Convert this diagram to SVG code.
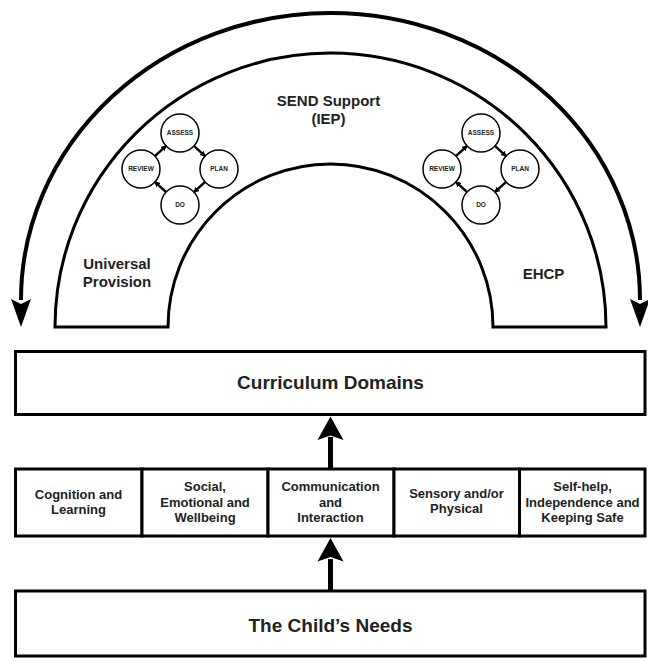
<svg xmlns="http://www.w3.org/2000/svg" width="648" height="661" viewBox="0 0 648 661">
<defs>
<style>
.bx{fill:#fff;stroke:#000;stroke-width:3}
.lbl{font-family:"Liberation Sans",Arial,sans-serif;font-weight:bold;fill:#222;text-anchor:middle}
.big{font-size:19px}
.mid{font-size:15px}
.sm{font-size:13px}
.tiny{font-size:6.5px}
.cyc{fill:#fff;stroke:#000;stroke-width:1.5}
.cl{stroke:#000;stroke-width:2.5;marker-end:url(#sa)}
.head{fill:#000}
</style>
<marker id="sa" markerUnits="userSpaceOnUse" viewBox="0 0 6 6" markerWidth="6" markerHeight="6" refX="5" refY="3" orient="auto">
<path d="M0,0 L6,3 L0,6 z" fill="#000"/>
</marker>
</defs>
<rect width="648" height="661" fill="#fff"/>

<g id="outer-arrow">
<path d="M 21,300 A 309.5,287 0 0 1 640,300" fill="none" stroke="#000" stroke-width="4"/>
<polygon class="head" points="21,327 11,299 21,304 31,299"/>
<polygon class="head" points="640,327 630,299 640,304 650,299"/>
</g>

<g id="arch">
<path class="bx" d="M 55,327 A 275.5,274 0 0 1 606,327 L 493,327 A 162.5,163 0 0 0 168,327 Z"/>
<text class="lbl mid" x="328.5" y="106">SEND Support</text>
<text class="lbl mid" x="328.5" y="124">(IEP)</text>
<text class="lbl mid" x="117" y="269">Universal</text>
<text class="lbl mid" x="117" y="287">Provision</text>
<text class="lbl mid" x="543.5" y="279">EHCP</text>
</g>

<g id="cycle-left">
<circle class="cyc" cx="180" cy="133" r="19"/>
<circle class="cyc" cx="219" cy="169" r="19"/>
<circle class="cyc" cx="180" cy="205" r="19"/>
<circle class="cyc" cx="141" cy="169" r="19"/>
<text class="lbl tiny" x="180" y="135.3">ASSESS</text>
<text class="lbl tiny" x="219" y="171.3">PLAN</text>
<text class="lbl tiny" x="180" y="207.3">DO</text>
<text class="lbl tiny" x="141" y="171.3">REVIEW</text>
</g>
<g id="cycle-right">
<circle class="cyc" cx="481" cy="133" r="19"/>
<circle class="cyc" cx="520" cy="169" r="19"/>
<circle class="cyc" cx="481" cy="205" r="19"/>
<circle class="cyc" cx="442" cy="169" r="19"/>
<text class="lbl tiny" x="481" y="135.3">ASSESS</text>
<text class="lbl tiny" x="520" y="171.3">PLAN</text>
<text class="lbl tiny" x="481" y="207.3">DO</text>
<text class="lbl tiny" x="442" y="171.3">REVIEW</text>
</g>

<g id="curriculum">
<rect class="bx" x="15.5" y="351.5" width="629.5" height="63"/>
<text class="lbl big" x="330.5" y="389">Curriculum Domains</text>
</g>

<g id="domains">
<rect class="bx" x="15.5" y="469" width="126.5" height="67"/>
<rect class="bx" x="142" y="469" width="126" height="67"/>
<rect class="bx" x="268" y="469" width="126" height="67"/>
<rect class="bx" x="394" y="469" width="125.5" height="67"/>
<rect class="bx" x="519.5" y="469" width="125.5" height="67"/>
<text class="lbl sm" x="78.5" y="498.5">Cognition and</text>
<text class="lbl sm" x="78.5" y="514">Learning</text>
<text class="lbl sm" x="205" y="491">Social,</text>
<text class="lbl sm" x="205" y="506.5">Emotional and</text>
<text class="lbl sm" x="205" y="522">Wellbeing</text>
<text class="lbl sm" x="330.5" y="491">Communication</text>
<text class="lbl sm" x="330.5" y="506.5">and</text>
<text class="lbl sm" x="330.5" y="522">Interaction</text>
<text class="lbl sm" x="456.5" y="497.5">Sensory and/or</text>
<text class="lbl sm" x="456.5" y="513">Physical</text>
<text class="lbl sm" x="582.5" y="491">Self-help,</text>
<text class="lbl sm" x="582.5" y="506.5">Independence and</text>
<text class="lbl sm" x="582.5" y="522">Keeping Safe</text>
</g>

<g id="needs">
<rect class="bx" x="15.5" y="591" width="629.5" height="65"/>
<text class="lbl big" x="330.5" y="632">The Child’s Needs</text>
</g>

<g id="connectors">
<line x1="330.5" y1="468" x2="330.5" y2="437" stroke="#000" stroke-width="5"/>
<polygon class="head" points="330.5,416.5 317.5,440 330.5,435.5 343.5,440"/>
<line x1="330.5" y1="590" x2="330.5" y2="559" stroke="#000" stroke-width="5"/>
<polygon class="head" points="330.5,538 317.5,561.5 330.5,557 343.5,561.5"/>
<line class="cl" x1="193.9" y1="145.9" x2="205.1" y2="156.1"/>
<line class="cl" x1="205.1" y1="181.9" x2="193.9" y2="192.1"/>
<line class="cl" x1="166.1" y1="192.1" x2="154.9" y2="181.9"/>
<line class="cl" x1="154.9" y1="156.1" x2="166.1" y2="145.9"/>
<line class="cl" x1="494.9" y1="145.9" x2="506.1" y2="156.1"/>
<line class="cl" x1="506.1" y1="181.9" x2="494.9" y2="192.1"/>
<line class="cl" x1="467.1" y1="192.1" x2="455.9" y2="181.9"/>
<line class="cl" x1="455.9" y1="156.1" x2="467.1" y2="145.9"/>
</g>
</svg>
